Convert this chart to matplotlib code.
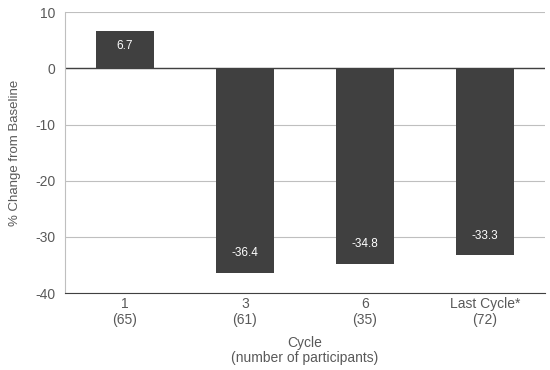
import numpy as np
import matplotlib.pyplot as plt

plt.rcParams['font.family'] = ['Liberation Sans', 'DejaVu Sans']
plt.rcParams['axes.unicode_minus'] = False

cycles = ["1\n(65)", "3\n(61)", "6\n(35)", "Last Cycle*\n(72)"]
pct_change = [6.7, -36.4, -34.8, -33.3]
value_labels = ["6.7", "-36.4", "-34.8", "-33.3"]

text_grey = '#595959'
bar_grey = '#404040'

fig = plt.figure(figsize=(5.5, 3.7), dpi=100)
ax = fig.add_axes([0.118, 0.208, 0.873, 0.759])

x = np.arange(len(cycles))
bars = ax.bar(x, pct_change, width=0.49, color=bar_grey, zorder=3)

# labels inside the bar end, like Excel's "inside end"
for b, v, lab in zip(bars, pct_change, value_labels):
    off = -11 if v >= 0 else 14
    ax.annotate(lab, (b.get_x() + b.get_width() / 2, v), xytext=(0, off),
                textcoords='offset points', ha='center', va='center',
                color='white', fontsize=8.5, zorder=4)

ax.set_xlim(-0.5, len(cycles) - 0.5)
ax.set_ylim(-40, 10)
ax.set_yticks([10, 0, -10, -20, -30, -40])
ax.set_xticks(x)
ax.set_xticklabels(cycles, linespacing=1.2)
ax.grid(axis='y', color='#bfbfbf', linewidth=0.8, zorder=0)
ax.axhline(0, color='#404040', linewidth=1, zorder=2)

for s in ['top', 'right']:
    ax.spines[s].set_visible(False)
ax.spines['left'].set_color('#bfbfbf')
ax.spines['bottom'].set_color('#404040')
ax.tick_params(axis='both', length=0, colors=text_grey, labelsize=10, pad=7)
ax.tick_params(axis='x', pad=3)

ax.set_ylabel('% Change from Baseline', color=text_grey, fontsize=9.5, labelpad=10)
ax.set_xlabel('Cycle\n(number of participants)', color=text_grey, fontsize=10,
              labelpad=6, linespacing=1.1)

fig.savefig('out.png', dpi=100)
